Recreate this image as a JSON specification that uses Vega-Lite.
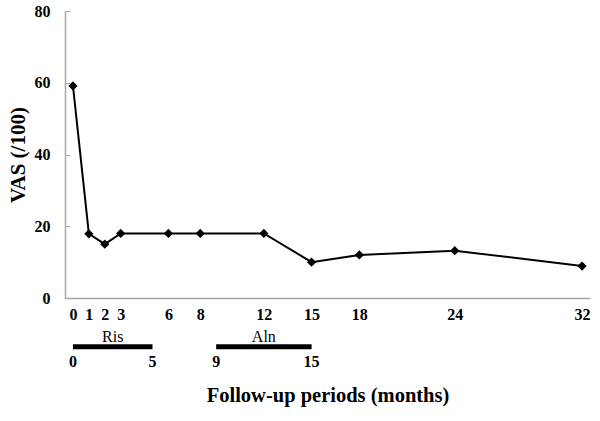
{
  "$schema": "https://vega.github.io/schema/vega-lite/v6.json",
  "width": 525,
  "height": 287,
  "autosize": "none",
  "padding": {"left": 65, "top": 11, "right": 10, "bottom": 123},
  "background": "white",
  "config": {
    "view": {"stroke": null},
    "font": "Liberation Serif"
  },
  "datasets": {
    "vas": [
      {"month": 0, "vas": 59.1},
      {"month": 1, "vas": 17.9},
      {"month": 2, "vas": 15.0},
      {"month": 3, "vas": 18.0},
      {"month": 6, "vas": 18.0},
      {"month": 8, "vas": 18.0},
      {"month": 12, "vas": 18.0},
      {"month": 15, "vas": 10.0},
      {"month": 18, "vas": 12.0},
      {"month": 24, "vas": 13.2},
      {"month": 32, "vas": 8.9}
    ],
    "drugs": [
      {"drug": "Ris", "start": 0, "end": 5},
      {"drug": "Aln", "start": 9, "end": 15}
    ],
    "bounds": [
      {"month": 0}, {"month": 5}, {"month": 9}, {"month": 15}
    ]
  },
  "layer": [
    {
      "data": {"name": "vas"},
      "mark": {"type": "line", "color": "black", "strokeWidth": 2},
      "encoding": {
        "x": {
          "field": "month", "type": "quantitative",
          "scale": {"domain": [-0.5, 32.5], "nice": false, "zero": false},
          "axis": {
            "values": [0, 1, 2, 3, 6, 8, 12, 15, 18, 24, 32],
            "ticks": false, "grid": false,
            "domainColor": "#a8a8a0", "domainWidth": 1.5,
            "labelFont": "Liberation Serif", "labelFontWeight": "bold", "labelFontSize": 16,
            "labelColor": "black", "labelPadding": 8, "labelFlush": false, "labelOverlap": false,
            "title": "Follow-up periods (months)",
            "titleFont": "Liberation Serif", "titleFontWeight": "bold", "titleFontSize": 20.5,
            "titleColor": "black", "titlePadding": 63
          }
        },
        "y": {
          "field": "vas", "type": "quantitative",
          "scale": {"domain": [0, 80], "nice": false},
          "axis": {
            "values": [0, 20, 40, 60, 80],
            "grid": false,
            "domainColor": "#a8a8a0", "domainWidth": 1.5,
            "tickColor": "#a8a8a0", "tickSize": -5, "tickWidth": 1,
            "labelFont": "Liberation Serif", "labelFontWeight": "bold", "labelFontSize": 16,
            "labelColor": "black", "labelPadding": 20, "labelFlush": false,
            "title": "VAS (/100)",
            "titleFont": "Liberation Serif", "titleFontWeight": "bold", "titleFontSize": 21,
            "titleColor": "black", "titlePadding": 6
          }
        }
      }
    },
    {
      "data": {"name": "vas"},
      "mark": {"type": "point", "shape": "diamond", "filled": true, "color": "black", "size": 85, "opacity": 1},
      "encoding": {
        "x": {"field": "month", "type": "quantitative"},
        "y": {"field": "vas", "type": "quantitative"}
      }
    },
    {
      "data": {"name": "drugs"},
      "mark": {"type": "rule", "color": "black", "strokeWidth": 5},
      "encoding": {
        "x": {"field": "start", "type": "quantitative"},
        "x2": {"field": "end"},
        "y": {"datum": -13.6}
      }
    },
    {
      "data": {"name": "drugs"},
      "transform": [{"calculate": "(datum.start + datum.end) / 2", "as": "mid"}],
      "mark": {"type": "text", "font": "Liberation Serif", "fontSize": 16, "color": "black", "baseline": "middle", "align": "center"},
      "encoding": {
        "x": {"field": "mid", "type": "quantitative"},
        "y": {"datum": -10.8},
        "text": {"field": "drug"}
      }
    },
    {
      "data": {"name": "bounds"},
      "mark": {"type": "text", "font": "Liberation Serif", "fontSize": 16, "fontWeight": "bold", "color": "black", "baseline": "middle", "align": "center"},
      "encoding": {
        "x": {"field": "month", "type": "quantitative"},
        "y": {"datum": -17.8},
        "text": {"field": "month", "type": "quantitative"}
      }
    }
  ]
}
